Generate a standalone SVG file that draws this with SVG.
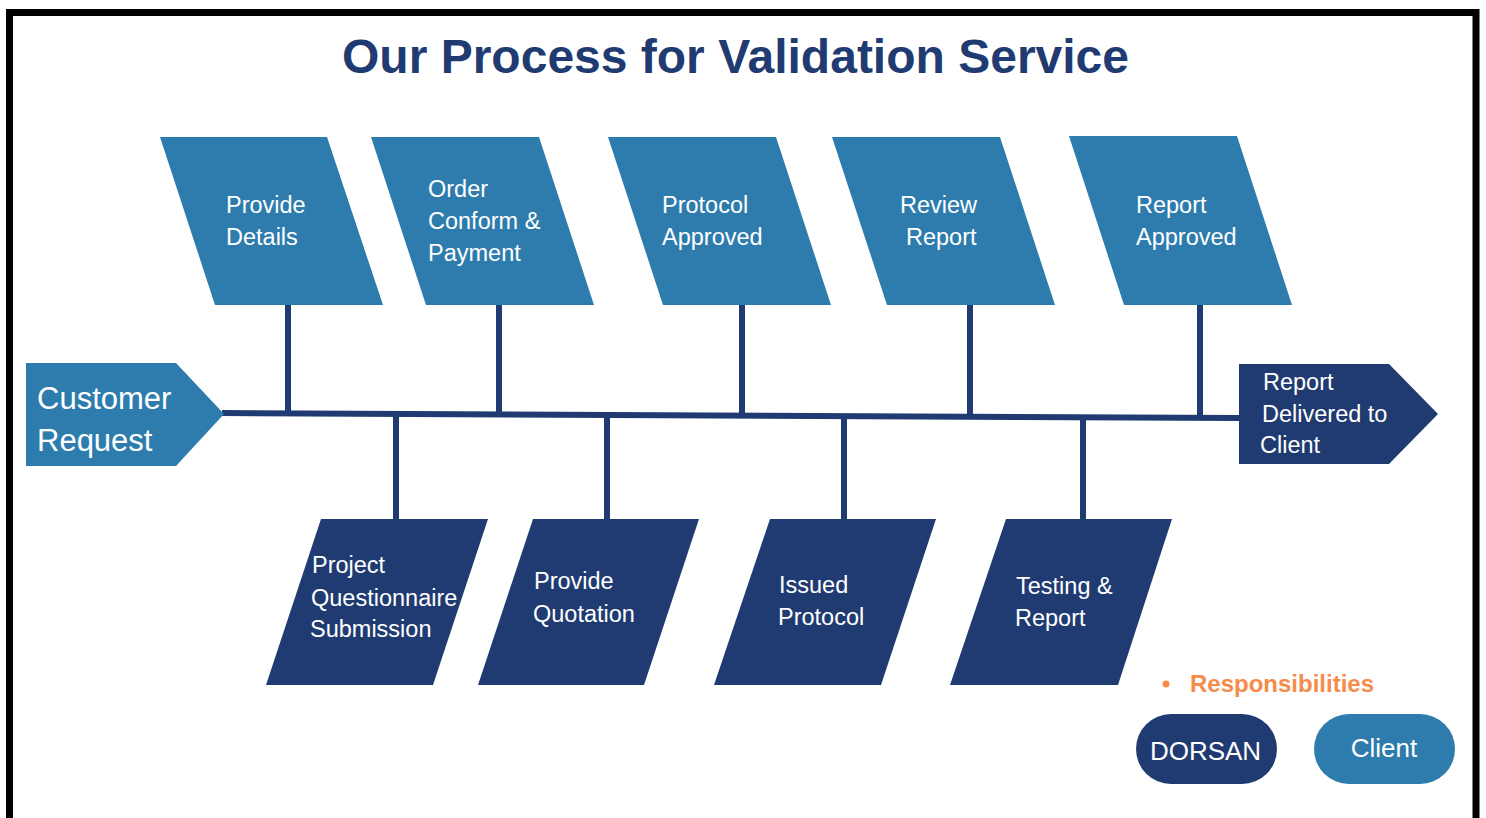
<svg xmlns="http://www.w3.org/2000/svg" width="1486" height="818" viewBox="0 0 1486 818">
<style>
.lt{fill:#2E7CAE}
.dk{fill:#1F3B71}
.t{font-family:"Liberation Sans",Arial,sans-serif;fill:#fff;font-size:23.5px}
.c{stroke:#1F3B71;stroke-width:6;fill:none}
</style>
<rect width="1486" height="818" fill="#fff"/>
<path d="M9.5 825 L9.5 12.5 L1476 12.5 L1476 825" fill="none" stroke="#000" stroke-width="7"/>
<text x="735.5" y="73" text-anchor="middle" font-family="Liberation Sans,Arial,sans-serif" font-weight="bold" font-size="48" fill="#1F3B71">Our Process for Validation Service</text>
<g id="connectors">
<path class="c" d="M222 413 L1240 418"/>
<path class="c" d="M288 305 V414"/>
<path class="c" d="M499 305 V415"/>
<path class="c" d="M742 305 V416"/>
<path class="c" d="M970 305 V417"/>
<path class="c" d="M1200 305 V418"/>
<path class="c" d="M396 412 V520"/>
<path class="c" d="M607 413 V520"/>
<path class="c" d="M844 414 V520"/>
<path class="c" d="M1083 415 V520"/>
</g>
<g id="customer-request">
<path class="lt" d="M26 363 H176 L224 414 L176 466 H26 Z"/>
<text class="t" style="font-size:31px" x="37" y="409">Customer</text>
<text class="t" style="font-size:31px" x="37" y="451">Request</text>
</g>
<g id="report-delivered">
<path class="dk" d="M1239 364 H1389 L1438 414 L1389 464 H1239 Z"/>
<text class="t" x="1263" y="390">Report</text>
<text class="t" x="1262" y="422">Delivered to</text>
<text class="t" x="1260" y="453">Client</text>
</g>
<g id="provide-details">
<path class="lt" d="M160 137 H327 L383 305 H215 Z"/>
<text class="t" x="226" y="213">Provide</text>
<text class="t" x="226" y="245">Details</text>
</g>
<g id="order-conform">
<path class="lt" d="M371 137 H539 L594 305 H426 Z"/>
<text class="t" x="428" y="197">Order</text>
<text class="t" x="428" y="229">Conform &amp;</text>
<text class="t" x="428" y="261">Payment</text>
</g>
<g id="protocol-approved">
<path class="lt" d="M608 137 H776 L831 305 H663 Z"/>
<text class="t" x="662" y="213">Protocol</text>
<text class="t" x="662" y="245">Approved</text>
</g>
<g id="review-report">
<path class="lt" d="M832 137 H1000 L1055 305 H887 Z"/>
<text class="t" x="900" y="213">Review</text>
<text class="t" x="906" y="245">Report</text>
</g>
<g id="report-approved">
<path class="lt" d="M1069 136 H1237 L1292 305 H1124 Z"/>
<text class="t" x="1136" y="213">Report</text>
<text class="t" x="1136" y="245">Approved</text>
</g>
<g id="project-questionnaire">
<path class="dk" d="M321 519 H488 L433 685 H266 Z"/>
<text class="t" x="312" y="573">Project</text>
<text class="t" x="311" y="606">Questionnaire</text>
<text class="t" x="310" y="637">Submission</text>
</g>
<g id="provide-quotation">
<path class="dk" d="M533 519 H699 L644 685 H478 Z"/>
<text class="t" x="534" y="589">Provide</text>
<text class="t" x="533" y="622">Quotation</text>
</g>
<g id="issued-protocol">
<path class="dk" d="M770 519 H936 L881 685 H714 Z"/>
<text class="t" x="779" y="593">Issued</text>
<text class="t" x="778" y="625">Protocol</text>
</g>
<g id="testing-report">
<path class="dk" d="M1006 519 H1172 L1118 685 H950 Z"/>
<text class="t" x="1016" y="594">Testing &amp;</text>
<text class="t" x="1015" y="626">Report</text>
</g>
<g id="legend">
<circle cx="1166" cy="684" r="3.5" fill="#F68B4A"/>
<text x="1190" y="692" font-family="Liberation Sans,Arial,sans-serif" font-weight="bold" font-size="24" fill="#F68B4A">Responsibilities</text>
<g id="legend-dorsan">
<rect class="dk" x="1136" y="714" width="141" height="70" rx="35"/>
<text class="t" style="font-size:26px" x="1205.5" y="760" text-anchor="middle">DORSAN</text>
</g>
<g id="legend-client">
<rect class="lt" x="1314" y="714" width="141" height="70" rx="35"/>
<text class="t" style="font-size:26px" x="1384" y="757" text-anchor="middle">Client</text>
</g>
</g>
</svg>
